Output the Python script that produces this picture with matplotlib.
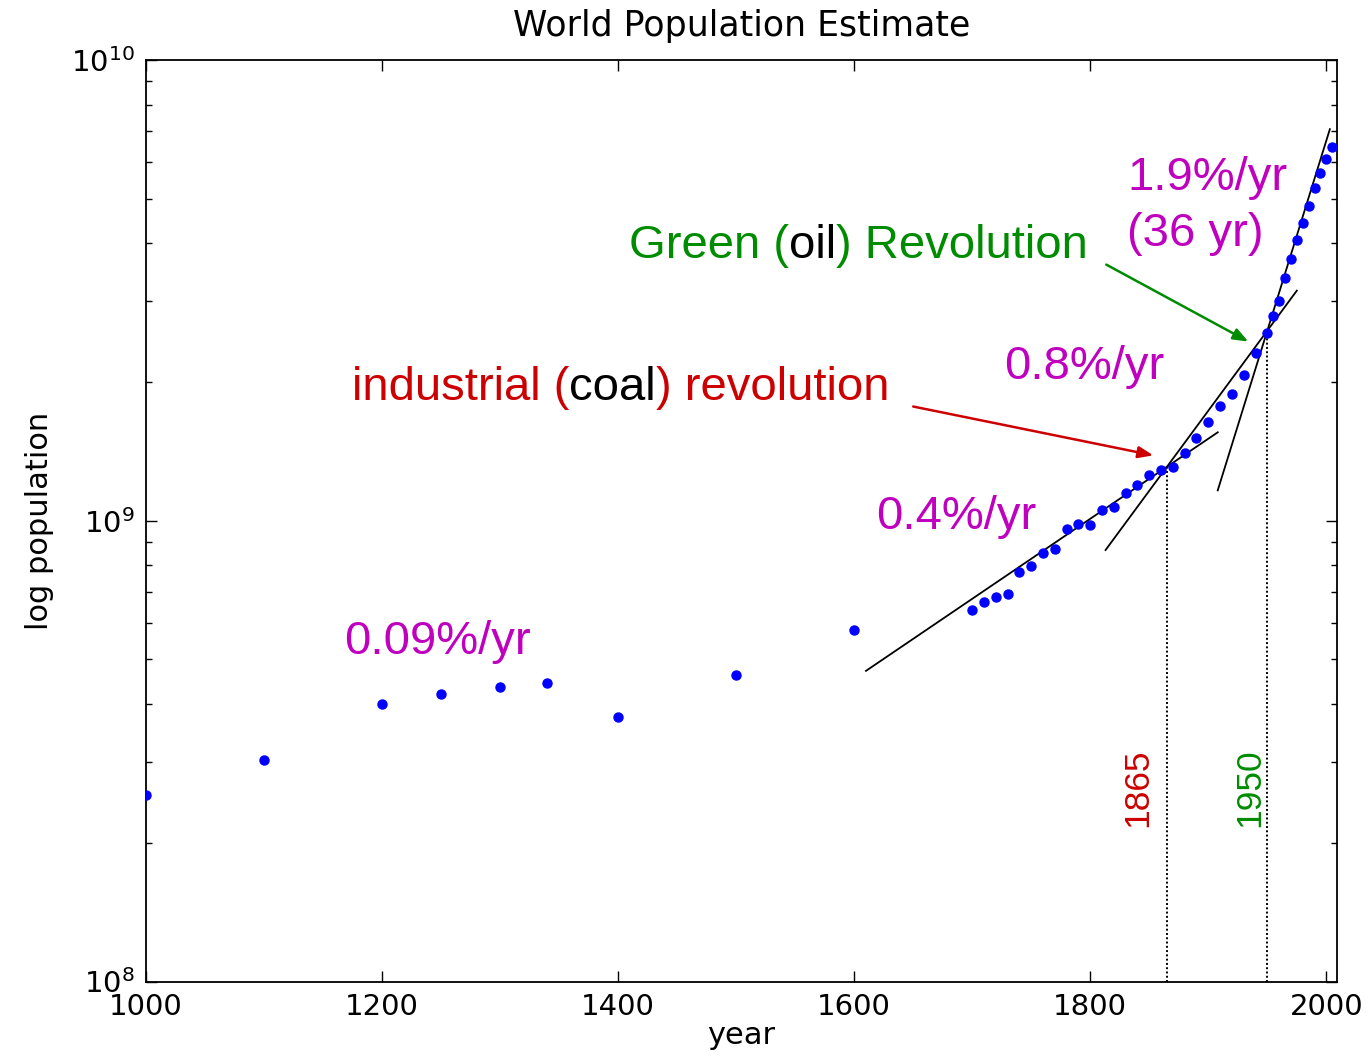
import numpy as np
import matplotlib
matplotlib.use('Agg')
from matplotlib import pyplot as plt
from matplotlib import transforms as mtransforms

# dane
years = [1000, 1100, 1200, 1250, 1300, 1340, 1400, 1500, 1600,
         1700, 1710, 1720, 1730, 1740, 1750, 1760, 1770, 1780, 1790,
         1800, 1810, 1820, 1830, 1840, 1850, 1860, 1870, 1880, 1890,
         1900, 1910, 1920, 1930, 1940, 1950, 1955, 1960, 1965, 1970,
         1975, 1980, 1985, 1990, 1995, 2000, 2005]
population = [2.54e8, 3.03e8, 4.00e8, 4.20e8, 4.35e8, 4.45e8, 3.75e8, 4.62e8, 5.80e8,
              6.40e8, 6.66e8, 6.84e8, 6.92e8, 7.73e8, 7.97e8, 8.51e8, 8.70e8, 9.58e8, 9.86e8,
              9.81e8, 1.055e9, 1.073e9, 1.149e9, 1.194e9, 1.256e9, 1.288e9, 1.310e9, 1.405e9, 1.514e9,
              1.637e9, 1.773e9, 1.889e9, 2.077e9, 2.315e9, 2.557e9, 2.779e9, 2.995e9, 3.365e9, 3.70e9,
              4.07e9, 4.43e9, 4.83e9, 5.27e9, 5.70e9, 6.09e9, 6.46e9]

# proste wzrostu wykladniczego
break_years = [1865, 1950]
break_labels = ['1865', '1950']
pop_1865 = 1.31e9
fit_rates = [0.004, 0.008, 0.019]
fit_anchor = [1865, 1865, 1950]
fit_start = [1610, 1813, 1908]
fit_end = [1908, 1975, 2003]
rate_labels = ['0.4%/yr', '0.8%/yr', '1.9%/yr\n(36 yr)', '0.09%/yr']

RED = '#cc0000'
GREEN = '#008c00'
MAGENTA = '#bf00bf'
ANNOT_FONT = 'Liberation Sans'


def pop_at(year, rate, anchor):
    """Wartosc populacji na prostej (w skali log) przechodzacej przez punkt zakotwiczenia."""
    if anchor == 1865:
        p0 = pop_1865
    else:
        p0 = pop_1865 * np.exp(fit_rates[1] * (break_years[1] - break_years[0]))
    return p0 * np.exp(rate * (np.asarray(year) - anchor))


def rainbow_text(ax, x, y, parts, **kw):
    """Tekst skladany z kawalkow w roznych kolorach."""
    renderer = ax.figure.canvas.get_renderer()
    trans = ax.transData
    for s, c in parts:
        t = ax.text(x, y, s, color=c, transform=trans, va='baseline', **kw)
        ext = t.get_window_extent(renderer)
        trans = mtransforms.offset_copy(t.get_transform(), fig=ax.figure,
                                        x=ext.width, units='dots')


fig = plt.figure(figsize=(13.68, 10.57), dpi=100)
ax = fig.add_axes([0.1067, 0.0714, 0.8706, 0.8718])

ax.set_yscale('log')
ax.set_xlim(1000, 2009)
ax.set_ylim(1e8, 1e10)

ax.plot(years, population, 'o', color='blue', markeredgecolor='blue',
        markersize=6.5, zorder=3)

# proste dopasowania
for rate, anchor, t0, t1 in zip(fit_rates, fit_anchor, fit_start, fit_end):
    xx = np.array([t0, t1])
    ax.plot(xx, pop_at(xx, rate, anchor), color='black', lw=1.3, zorder=2)

# linie pionowe w punktach przelomu
break_pops = [pop_1865, pop_at(break_years[1], fit_rates[1], 1865)]
for yr, p in zip(break_years, break_pops):
    ax.plot([yr, yr], [1e8, p], color='black', ls=(0, (1, 1.2)), lw=1.4, zorder=2)

ax.text(1840.5, 2.17e8, break_labels[0], color=RED, rotation=90, ha='center',
        va='bottom', fontsize=25.5, family=ANNOT_FONT)
ax.text(1935.5, 2.17e8, break_labels[1], color=GREEN, rotation=90, ha='center',
        va='bottom', fontsize=25.5, family=ANNOT_FONT)

# opisy tempa wzrostu
ax.text(1618.6, 9.6e8, rate_labels[0], color=MAGENTA, fontsize=34,
        family=ANNOT_FONT, va='baseline')
ax.text(1727.1, 2.03e9, rate_labels[1], color=MAGENTA, fontsize=34,
        family=ANNOT_FONT, va='baseline')
ax.text(1831.4, 5.22e9, '1.9%/yr', color=MAGENTA, fontsize=34,
        family=ANNOT_FONT, va='baseline')
ax.text(1831.4, 3.94e9, '(36 yr)', color=MAGENTA, fontsize=34,
        family=ANNOT_FONT, va='baseline')
ax.text(1167.8, 5.14e8, rate_labels[3], color=MAGENTA, fontsize=34,
        family=ANNOT_FONT, va='baseline')

rainbow_text(ax, 1174.6, 1.83e9,
             [('industrial (', RED), ('coal', 'black'), (') revolution', RED)],
             fontsize=34, family=ANNOT_FONT)
rainbow_text(ax, 1409.3, 3.72e9,
             [('Green (', GREEN), ('oil', 'black'), (') Revolution', GREEN)],
             fontsize=34, family=ANNOT_FONT)

# strzalki
ax.annotate('', xy=(1853.4, 10 ** 9.142), xytext=(1650, 10 ** 9.248),
            arrowprops=dict(arrowstyle='-|>,head_length=0.9,head_width=0.35',
                            color=RED, lw=1.8, shrinkA=0, shrinkB=0))
ax.annotate('', xy=(1933.9, 10 ** 9.389), xytext=(1813.6, 10 ** 9.556),
            arrowprops=dict(arrowstyle='-|>,head_length=0.9,head_width=0.35',
                            color=GREEN, lw=1.8, shrinkA=0, shrinkB=0))

# osie
ax.set_xticks([1000, 1200, 1400, 1600, 1800, 2000])
ax.tick_params(which='both', direction='in', top=True, right=True,
               labelsize=21, pad=8, width=1)
ax.tick_params(which='major', length=8)
ax.tick_params(which='minor', length=4)
ax.tick_params(axis='x', which='minor', bottom=False, top=False)
for sp in ax.spines.values():
    sp.set_linewidth(1.3)

ax.set_title('World Population Estimate', fontsize=25, pad=17)
ax.set_xlabel('year', fontsize=22, labelpad=0)
ax.set_ylabel('log population', fontsize=22, labelpad=12)

fig.savefig('out.png', dpi=100)
